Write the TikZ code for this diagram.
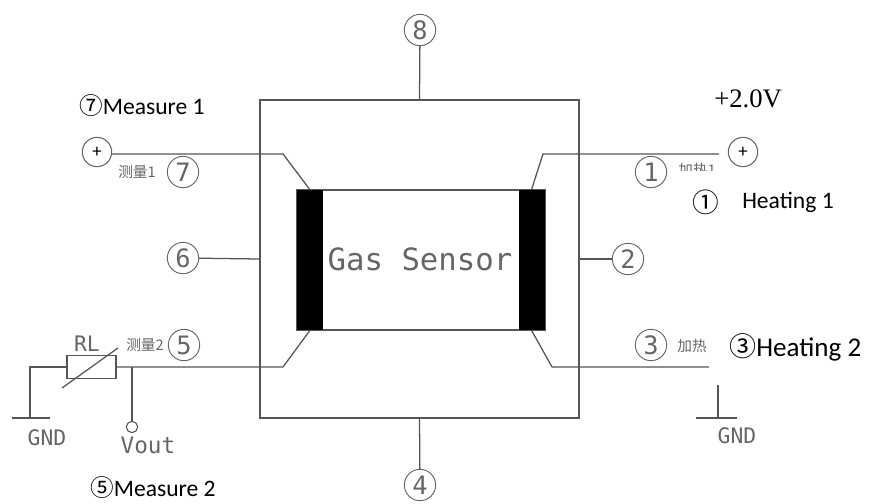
\documentclass[tikz,border=0pt]{standalone}
\usepackage{fontspec}
\setmainfont{Carlito}
\newfontfamily\cjkfont{Noto Sans CJK SC}
\newfontfamily\timesfont{Liberation Serif}
\newfontfamily\cadfont{DejaVu Sans Mono}
\usepackage{tikz}
\definecolor{wirecolor}{HTML}{555555}
\definecolor{cadtext}{HTML}{666666}
\tikzset{
  wire/.style={draw=wirecolor, line width=0.95pt},
  pinmark/.style={circle, draw=cadtext, line width=0.7pt, minimum size=23.5pt, inner sep=0pt, font=\fontsize{19}{19}\selectfont\cadfont, text=cadtext},
  plusmark/.style={circle, draw=cadtext, line width=0.8pt, minimum size=22pt, inner sep=0pt, font=\fontsize{14}{14}\selectfont, text=black},
  sensorbar/.style={fill=black, minimum width=19.5pt, minimum height=105pt, inner sep=0pt},
  cadlabel/.style={text=cadtext, inner sep=0pt, font=\fontsize{16}{16}\selectfont\cadfont},
  cjklabel/.style={text=cadtext, inner sep=0pt, font=\fontsize{11}{11}\selectfont\cjkfont},
  note/.style={inner sep=0pt, anchor=west, font=\fontsize{17.7}{17.7}\selectfont}
}
\begin{document}
\begin{tikzpicture}[x=0.75pt, y=-0.75pt]
  \useasboundingbox (0,0) rectangle (869,504);
  % sensor body
  \node[wire, minimum width=239.25pt, minimum height=238.5pt, inner sep=0pt] (body) at (419.5,259) {};
  \node[wire, minimum width=186pt, minimum height=105pt, inner sep=0pt] (chamber) at (421,260) {};
  \node[sensorbar] (barleft) at (310,260) {};
  \node[sensorbar] (barright) at (531.5,260) {};
  \node[text=cadtext, inner sep=0pt, font=\fontsize{23}{23}\selectfont\cadfont] (sensorname) at (420,259) {Gas Sensor};
  % numbered pins
  \node[pinmark] (pin8) at (420,30) {8};
  \node[pinmark] (pin6) at (183,258) {6};
  \node[pinmark] (pin2) at (628,259) {2};
  \node[pinmark] (pin4) at (420,485) {4};
  \node[pinmark] (pin7) at (183,172) {7};
  \node[pinmark] (pin5) at (184,345) {5};
  \node[pinmark] (pin1) at (651,172) {1};
  \node[pinmark] (pin3) at (651,345) {3};
  \draw[wire] (pin8) -- (body.north);
  \draw[wire] (pin6) -- (body.west);
  \draw[wire] (pin2) -- (body.east);
  \draw[wire] (pin4) -- (body.south);
  % supply side
  \node[plusmark] (plusleft) at (97,152) {+};
  \node[plusmark] (plusright) at (743,152) {+};
  \coordinate (bendseven) at (283,154);
  \coordinate (bendone) at (543,154);
  \coordinate (bendfive) at (283,367);
  \coordinate (bendthree) at (552,367);
  \coordinate (endone) at (719,154);
  \coordinate (endthree) at (709,367);
  \draw[wire] (plusleft.east |- bendseven) -- (bendseven) -- (barleft.north);
  \draw[wire] (endone) -- (bendone) -- (barright.north);
  \draw[wire] (barright.south) -- (bendthree) -- (endthree);
  % load circuit
  \node[draw=wirecolor, line width=0.95pt, minimum width=36.75pt, minimum height=17.25pt, inner sep=0pt] (rload) at (91.5,367) {};
  \coordinate (voutjoin) at (132,367);
  \node[circle, draw=wirecolor, line width=0.8pt, minimum size=8.5pt, inner sep=0pt] (voutring) at (132,427) {};
  \coordinate (gndleft) at (30,418);
  \coordinate (gndleftstart) at (12,418);
  \coordinate (gndleftend) at (50,418);
  \coordinate (gndright) at (718,418);
  \coordinate (gndrightstart) at (696,418);
  \coordinate (gndrightend) at (737,418);
  \coordinate (gndrighttop) at (718,385);
  \coordinate (slashstart) at (62,388);
  \coordinate (slashend) at (118,348);
  \draw[wire] (rload.east) -- (voutjoin) -- (bendfive) -- (barleft.south);
  \draw[wire] (voutjoin) -- (voutring);
  \draw[wire] (rload.west) -| (gndleft);
  \draw[wire] (gndleftstart) -- (gndleftend);
  \draw[wire] (gndrighttop) -- (gndright);
  \draw[wire] (gndrightstart) -- (gndrightend);
  \draw[wire] (slashstart) -- (slashend);
  \node[cadlabel] (rllabel) at (87,344) {RL};
  \node[cadlabel] (gndlefttext) at (47,438) {GND};
  \node[cadlabel] (gndrighttext) at (737,436) {GND};
  \node[cadlabel, font=\fontsize{17}{17}\selectfont\cadfont] (vouttext) at (148,445) {Vout};
  \node[cjklabel] (measureone) at (137,172) {测量1};
  \node[cjklabel] (measuretwo) at (145,345) {测量2};
  \node[cjklabel] (heatingtwo) at (692,346) {加热};
  \begin{scope}
    \clip (670,160) rectangle (720,170);
    \node[cjklabel] (heatingone) at (697,170) {加热1};
  \end{scope}
  % added labels
  \node[note] (notemeasureone) at (79,106) {{\cjkfont ⑦}Measure 1};
  \node[note] (notemeasuretwo) at (90,488) {{\cjkfont ⑤}Measure 2};
  \node[note, font=\fontsize{20}{20}\selectfont\timesfont] (notevolt) at (714,99) {+2.0V};
  \node[note, font=\fontsize{20}{20}\selectfont] (notecircleone) at (692,202) {{\cjkfont ①}};
  \node[note] (noteheatingone) at (742,202) {Heating 1};
  \node[note, font=\fontsize{20.3}{20.3}\selectfont] (noteheatingtwo) at (729,347) {{\cjkfont ③}Heating 2};
\end{tikzpicture}
\end{document}
